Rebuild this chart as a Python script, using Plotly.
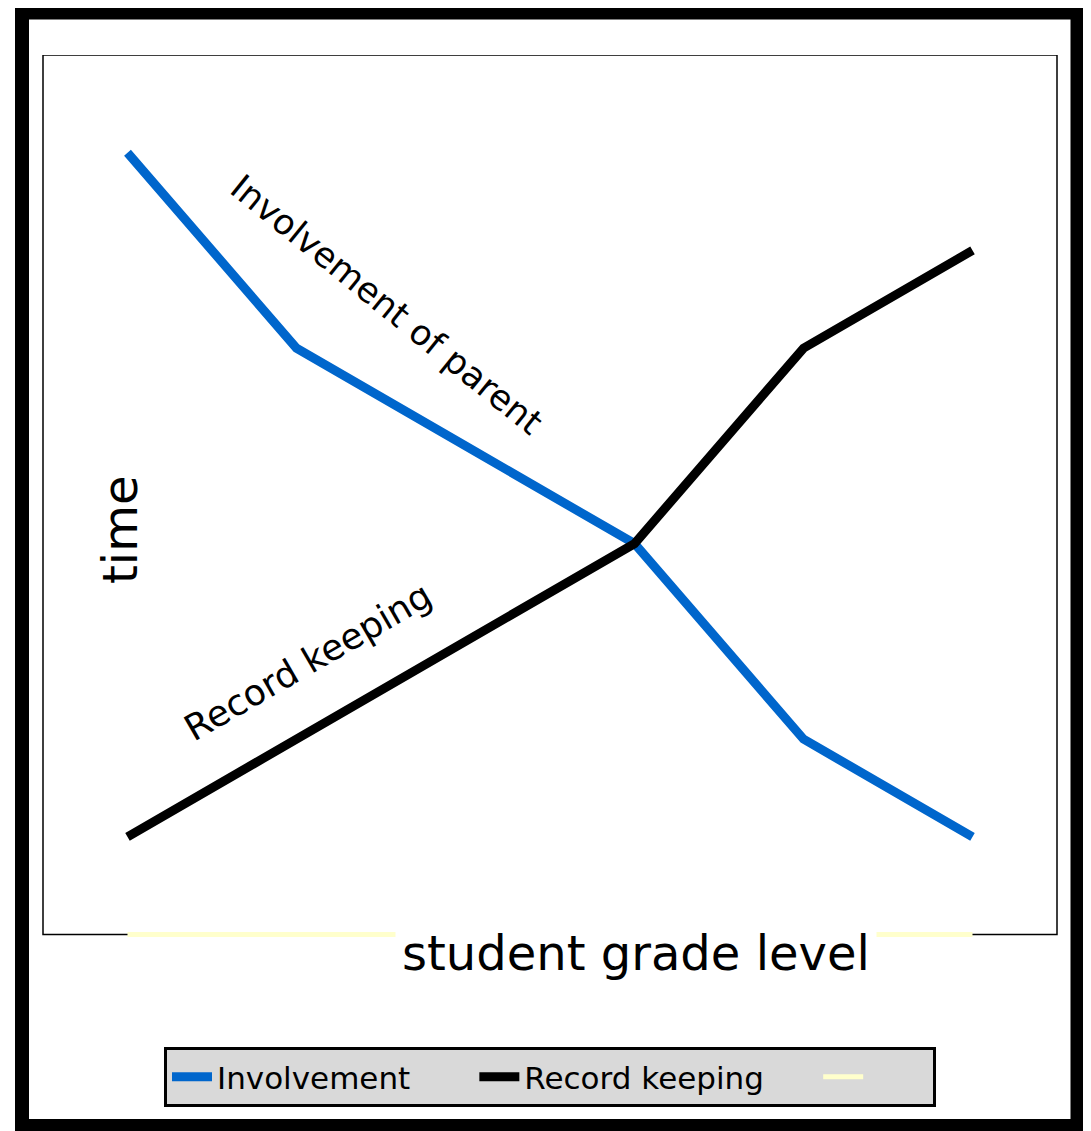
import plotly.graph_objects as go

# ---- data ----
grade_levels = [1, 2, 3, 4, 5, 6]
involvement = [7, 5, 4, 3, 1, 0]
record_keeping = [0, 1, 2, 3, 5, 6]
baseline_series = [-1, -1, -1, -1, -1, -1]
series_names = ["Involvement", "Record keeping", ""]

FONT = "DejaVu Sans"
NB = "\u00a0"
OFF = 8  # page body margin in the browser
W, H = 1091 - OFF, 1131 - OFF
# plot area in reference pixel coordinates
L_REF, R_REF, T_REF, B_REF = 43, 1057, 55, 937
ML, MR, MT, MB = L_REF - OFF, W - (R_REF - OFF), T_REF - OFF, H - (B_REF - OFF)
PW, PH = W - ML - MR, H - MT - MB


def px(x):
    return (x - L_REF) / PW


def py(y):
    return (B_REF - y) / PH


fig = go.Figure()
fig.add_trace(go.Scatter(x=grade_levels, y=involvement, mode="lines",
                         name=series_names[0] + NB * 6,
                         line=dict(color="#0066CC", width=9)))
fig.add_trace(go.Scatter(x=grade_levels, y=record_keeping, mode="lines",
                         name=series_names[1] + NB * 5,
                         line=dict(color="#000000", width=9)))
fig.add_trace(go.Scatter(x=grade_levels, y=baseline_series, mode="lines",
                         name=series_names[2] + NB * 6,
                         line=dict(color="#FFFFCC", width=5)))

fig.update_layout(
    width=W, height=H, autosize=False,
    margin=dict(l=ML, r=MR, t=MT, b=MB, pad=0),
    paper_bgcolor="white", plot_bgcolor="white",
    font=dict(family=FONT, color="black"),
    xaxis=dict(range=[0.5, 6.5], showgrid=False, zeroline=False, showticklabels=False,
               ticks="", showline=False),
    yaxis=dict(range=[-1.025, 8], showgrid=False, zeroline=False, showticklabels=False,
               ticks="", showline=False),
    legend=dict(orientation="h", x=0.5, xanchor="center", y=py(1047), yanchor="top",
                bgcolor="#D9D9D9", bordercolor="black", borderwidth=3,
                font=dict(family=FONT, size=31, color="black"), itemwidth=40),
    shapes=[
        dict(type="rect", xref="paper", yref="y", x0=0, x1=1, y0=-1, y1=8,
             line=dict(color="black", width=1.5), layer="below"),
        dict(type="rect", xref="paper", yref="paper", x0=px(22), x1=px(1077.5),
             y0=py(1126), y1=py(12.5), line=dict(color="black", width=14), layer="above"),
    ],
    annotations=[
        dict(text="student grade level", xref="paper", yref="paper", x=px(636), y=py(953),
             xanchor="center", yanchor="middle",
             showarrow=False, bgcolor="white", borderpad=6,
             font=dict(family=FONT, size=48, color="black")),
        dict(text="time", xref="paper", yref="paper", x=px(120), y=py(530), textangle=-90,
             xanchor="center", yanchor="middle",
             showarrow=False, font=dict(family=FONT, size=48, color="black")),
        dict(text="Involvement of parent", x=2.535, y=5.44, textangle=39, showarrow=False,
             xanchor="center", yanchor="middle",
             font=dict(family=FONT, size=35, color="black")),
        dict(text="Record keeping", x=2.07, y=1.79, textangle=-30, showarrow=False,
             xanchor="center", yanchor="middle",
             font=dict(family=FONT, size=36, color="black")),
    ],
)

fig.write_html("out.html")
